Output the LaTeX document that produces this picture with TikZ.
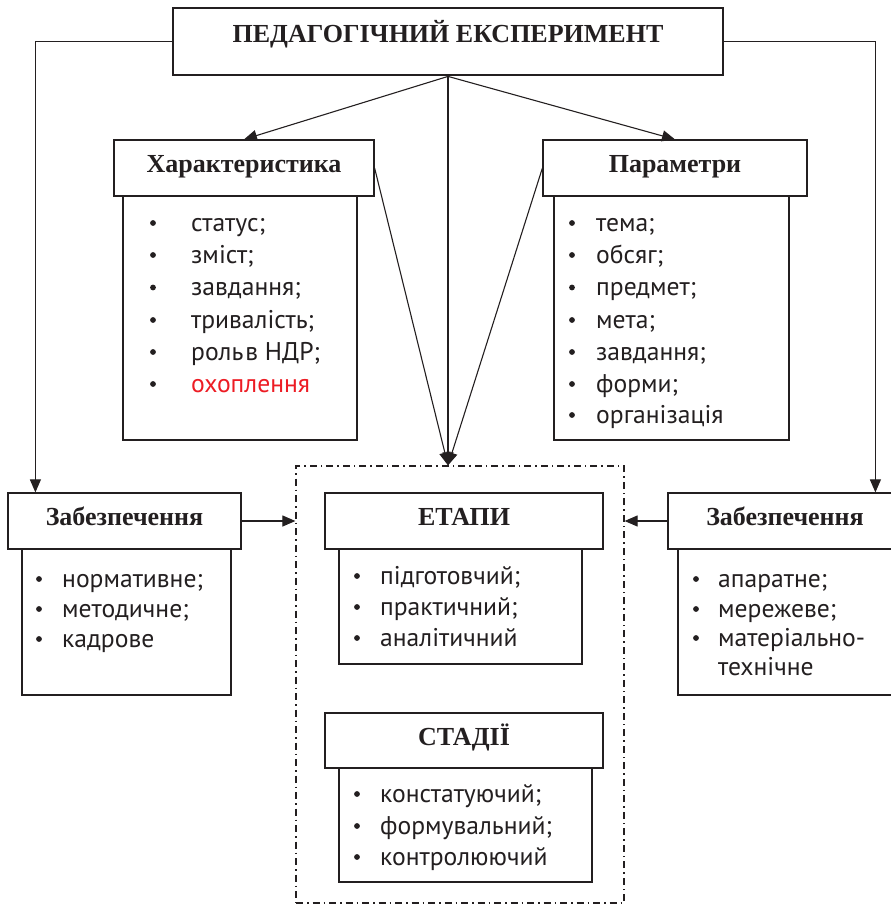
\documentclass[tikz,border=0pt]{standalone}
\usepackage{fontspec}
\setmainfont{Liberation Serif}
\newfontfamily\itemfont{PT Sans}
\usetikzlibrary{arrows.meta}
\definecolor{ink}{HTML}{231F20}
\definecolor{redtxt}{HTML}{ED1C24}
\newcommand{\bitem}[5]{%
  \node[bul] (#1b) at (#2,#4-8) {};
  \node[itm] (#1) at (#3,#4) {#5};}
\begin{document}
\begin{tikzpicture}[x=1pt,y=-1pt,
  box/.style={draw=ink,line width=1.2pt,rectangle,inner sep=0pt,fill=white},
  hdr/.style={box,font=\fontsize{26}{26}\selectfont\bfseries,text=ink,text height=1.0em,text depth=0.1em},
  itm/.style={anchor=base west,inner sep=0pt,font=\itemfont\fontsize{25.6}{25.6}\selectfont,text=ink},
  conn/.style={draw=ink,line width=1.1pt},
  arr/.style={conn,-{Triangle[length=13pt,width=11pt]}},
  bul/.style={circle,fill=ink,inner sep=0pt,minimum size=5.8pt},
  frm/.style={draw=ink,line width=1.2pt,dash pattern=on 7pt off 4pt on 1.5pt off 4pt,rectangle,inner sep=0pt}
]
\useasboundingbox (0,0) rectangle (891,905);
\clip (0,0) rectangle (891,905);

% frame
\node[frm,minimum width=328pt,minimum height=437pt] (frame) at (460,684.5) {};

% top
\node[box,line width=2.8pt,minimum width=550pt,minimum height=67pt] (top) at (448,41.5) {};
\node[anchor=base,inner sep=0pt,font=\fontsize{26}{26}\selectfont\bfseries,text=ink] (toptxt) at (448,42) {ПЕДАГОГІЧНИЙ ЕКСПЕРИМЕНТ};

% bodies
\node[box,minimum width=234pt,minimum height=244pt] (charb) at (240,318) {};
\node[box,minimum width=235pt,minimum height=244pt] (parb) at (671.5,318) {};
\node[box,minimum width=209pt,minimum height=146pt] (lzb) at (126.5,622) {};
\node[box,minimum width=222pt,minimum height=146pt] (rzb) at (789,622) {};
\node[box,minimum width=243pt,minimum height=115pt] (etb) at (460.5,606.5) {};
\node[box,minimum width=253pt,minimum height=114pt] (stb) at (465.5,825) {};

% headers
\node[hdr,minimum width=260pt,minimum height=56pt] (char) at (244,168) {Характеристика};
\node[hdr,minimum width=264pt,minimum height=56pt] (par) at (675,168) {Параметри};
\node[hdr,minimum width=233pt,minimum height=56pt] (lz) at (124.5,521) {Забезпечення};
\node[hdr,minimum width=234pt,minimum height=56pt] (rz) at (785,521) {Забезпечення};
\node[hdr,minimum width=278pt,minimum height=56pt] (et) at (464,521) {ЕТАПИ};
\node[hdr,minimum width=278pt,minimum height=55pt] (st) at (464,740.5) {СТАДІЇ};

% items
\bitem{c1}{153}{191}{231}{статус;}
\bitem{c2}{153}{191}{263}{зміст;}
\bitem{c3}{153}{191}{295.5}{завдання;}
\bitem{c4}{153}{191}{328}{тривалість;}
\bitem{c5}{153}{191}{360}{роль\hspace{2pt}в НДР;}
\bitem{c6}{153}{191}{392}{\textcolor{redtxt}{охоплення}}

\bitem{p1}{572}{596}{231}{тема;}
\bitem{p2}{572}{596}{263}{обсяг;}
\bitem{p3}{572}{596}{295.5}{предмет;}
\bitem{p4}{572}{596}{328}{мета;}
\bitem{p5}{572}{596}{360}{завдання;}
\bitem{p6}{572}{596}{392}{форми;}
\bitem{p7}{572}{596}{423}{організація}

\bitem{l1}{39}{62}{587}{нормативне;}
\bitem{l2}{39}{62}{617}{методичне;}
\bitem{l3}{39}{62}{647}{кадрове}

\bitem{r1}{696}{718}{587}{апаратне;}
\bitem{r2}{696}{718}{617}{мережеве;}
\bitem{r3}{696}{718}{646}{матеріально-}
\node[itm] (r4) at (718,675) {технічне};

\bitem{e1}{357}{380}{584}{підготовчий;}
\bitem{e2}{357}{380}{615}{практичний;}
\bitem{e3}{357}{380}{646}{аналітичний}

\bitem{s1}{357}{380}{802}{констатуючий;}
\bitem{s2}{357}{380}{834}{формувальний;}
\bitem{s3}{357}{380}{865}{контролюючий}

% connectors
\coordinate (conv) at (top.south |- frame.north);
\draw[arr] (top.south) -- (char.north);
\draw[arr] (top.south) -- (par.north);
\draw[arr] (top.south) -- (conv);
\draw[arr] (char.east) -- (conv);
\draw[arr] (par.west) -- (conv);
\draw[arr] (top.west) -| ([xshift=28pt]lz.north west);
\draw[arr] (top.east) -| ([xshift=208pt]rz.north west);
\draw[arr] (lz.east) -- (frame.west |- lz.east);
\draw[arr] (rz.west) -- (frame.east |- rz.west);
\end{tikzpicture}
\end{document}
